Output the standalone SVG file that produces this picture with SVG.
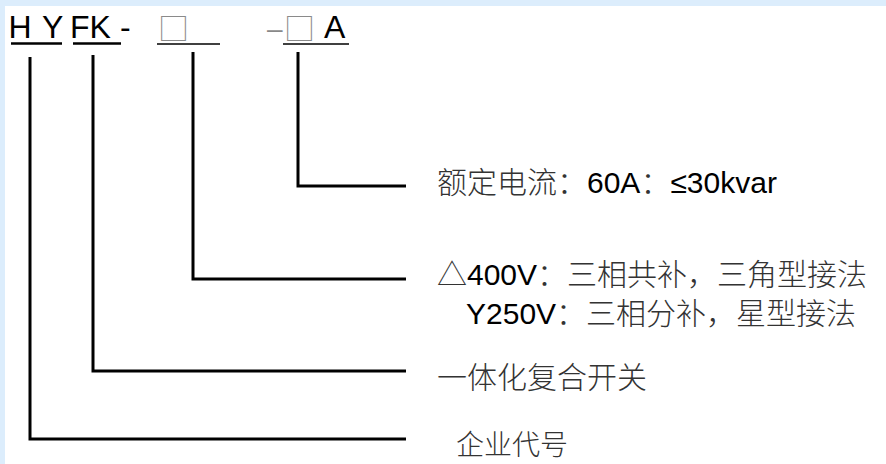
<svg xmlns="http://www.w3.org/2000/svg" width="886" height="464" viewBox="0 0 886 464">
<style>
.lat{font-family:"Liberation Sans","Noto Sans CJK SC",sans-serif;fill:#000}
.cjk{font-family:"Noto Sans CJK SC",sans-serif;fill:#333;font-weight:300}
.box{font-family:"Noto Sans CJK SC",sans-serif;fill:#8a8a8a;font-weight:300}
.conn{fill:none;stroke:#000;stroke-width:3;stroke-linejoin:miter}
.ul{stroke:#000}
</style>
<rect width="886" height="464" fill="#dcedfc"/>
<rect x="5" y="6" width="881" height="458" fill="#ffffff"/>
<g id="code">
<text class="lat" font-size="32" x="8.5 42" y="38">HY</text>
<text class="lat" font-size="32" x="70 89.5 120" y="38">FK-</text>
<text class="box" font-size="31" x="158" y="40">□</text>
<text class="lat" font-size="28" x="267" y="38" style="fill:#888">–</text>
<text class="box" font-size="31" x="284" y="40">□</text>
<text class="lat" font-size="32" x="324" y="38">A</text>
<line class="ul" x1="11" y1="43.5" x2="62" y2="43.5" stroke-width="2.5"/>
<line class="ul" x1="73" y1="43.5" x2="121" y2="43.5" stroke-width="2.5"/>
<line class="ul" x1="157" y1="44" x2="220" y2="44" stroke-width="1.5"/>
<line class="ul" x1="283" y1="44" x2="349" y2="44" stroke-width="1.5"/>
</g>
<g id="connectors">
<path class="conn" d="M298,52 V186 H406"/>
<path class="conn" d="M193,52 V279 H406"/>
<path class="conn" d="M93,55 V371 H406"/>
<path class="conn" d="M30,57 V439 H406"/>
</g>
<g id="current">
<text class="lat" font-size="30" x="437" y="193"><tspan class="cjk">额定电流：</tspan>60A<tspan class="cjk">：</tspan>≤30kvar</text>
</g>
<g id="voltage">
<text class="lat" font-size="30" x="437" y="285"><tspan class="cjk">△</tspan>400V<tspan class="cjk">：三相共补，三角型接法</tspan></text>
<text class="lat" font-size="30" x="466" y="324">Y250V<tspan class="cjk">：三相分补，星型接法</tspan></text>
</g>
<g id="switch">
<text class="cjk" font-size="30" x="437" y="388">一体化复合开关</text>
</g>
<g id="company">
<text class="cjk" font-size="28" x="456" y="455">企业代号</text>
</g>
</svg>
